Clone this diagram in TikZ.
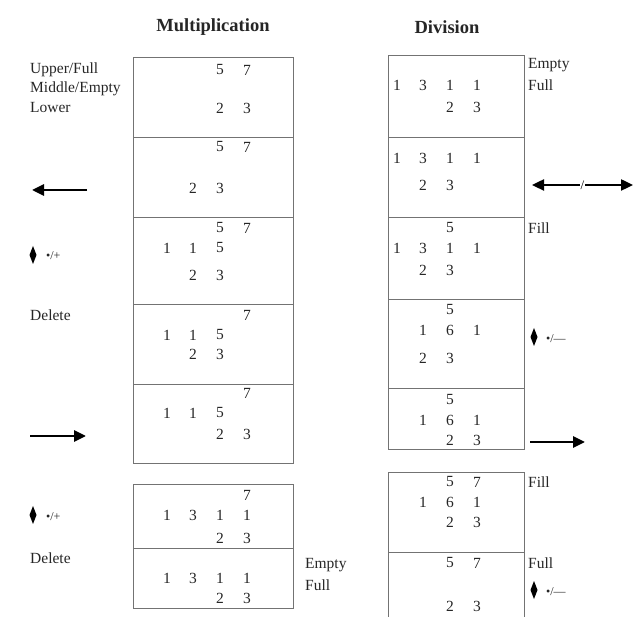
\documentclass[tikz,border=0pt]{standalone}
\usepackage{fontspec}
\setmainfont{Liberation Serif}
\usetikzlibrary{arrows.meta}
\newcounter{dgc}
\newcommand\Dg[3]{\stepcounter{dgc}\node[dig] (dg\arabic{dgc}) at (#1,#2) {#3};}
\begin{document}
\begin{tikzpicture}[x=1pt,y=-1pt,
  boxline/.style={draw=black!55,line width=0.8pt},
  dig/.style={inner sep=0pt,font=\fontsize{15.5}{18}\selectfont,text=black!85},
  lbl/.style={inner sep=0pt,anchor=west,font=\fontsize{15.5}{18}\selectfont,text=black!85},
  ttl/.style={inner sep=0pt,font=\fontsize{18.5}{22}\selectfont\bfseries,text=black!85},
  sml/.style={inner sep=0pt,anchor=west,font=\fontsize{12}{14}\selectfont,text=black!85},
  bigarrow/.style={line width=2.8pt,-{Triangle[length=12pt,width=11pt]}},
  dia/.style={fill=black}]
\useasboundingbox (0,0) rectangle (635,617);
% titles
\node[ttl] (tm) at (213,27) {Multiplication};
\node[ttl] (td) at (447,27) {Division};
% multiplication boxes
\draw[boxline] (133,57) rectangle (293,463);
\foreach \y in {137,217,304,384} \draw[boxline] (133,\y) -- (293,\y);
\draw[boxline] (133,484) rectangle (293,608);
\draw[boxline] (133,548) -- (293,548);
% division boxes
\draw[boxline] (388,55) rectangle (524,449);
\foreach \y in {137,217,299,388} \draw[boxline] (388,\y) -- (524,\y);
\draw[boxline] (388,617) -- (388,472) -- (524,472) -- (524,617);
\draw[boxline] (388,552) -- (524,552);
% columns
\def\A{167}\def\B{193}\def\C{220}\def\D{247}
\def\P{397}\def\Q{423}\def\R{450}\def\S{477}
% mult digits
\Dg{\C}{70}{5}\Dg{\D}{70}{7}\Dg{\C}{108}{2}\Dg{\D}{108}{3}
\Dg{\C}{147}{5}\Dg{\D}{147}{7}\Dg{\B}{188}{2}\Dg{\C}{188}{3}
\Dg{\C}{228}{5}\Dg{\D}{228}{7}\Dg{\A}{248}{1}\Dg{\B}{248}{1}\Dg{\C}{248}{5}\Dg{\B}{275}{2}\Dg{\C}{275}{3}
\Dg{\D}{315}{7}\Dg{\A}{335}{1}\Dg{\B}{335}{1}\Dg{\C}{335}{5}\Dg{\B}{354}{2}\Dg{\C}{354}{3}
\Dg{\D}{393}{7}\Dg{\A}{413}{1}\Dg{\B}{413}{1}\Dg{\C}{413}{5}\Dg{\C}{434}{2}\Dg{\D}{434}{3}
\Dg{\D}{495}{7}\Dg{\A}{515}{1}\Dg{\B}{515}{3}\Dg{\C}{515}{1}\Dg{\D}{515}{1}\Dg{\C}{538}{2}\Dg{\D}{538}{3}
\Dg{\A}{578}{1}\Dg{\B}{578}{3}\Dg{\C}{578}{1}\Dg{\D}{578}{1}\Dg{\C}{598}{2}\Dg{\D}{598}{3}
% div digits
\Dg{\P}{85}{1}\Dg{\Q}{85}{3}\Dg{\R}{85}{1}\Dg{\S}{85}{1}\Dg{\R}{107}{2}\Dg{\S}{107}{3}
\Dg{\P}{158}{1}\Dg{\Q}{158}{3}\Dg{\R}{158}{1}\Dg{\S}{158}{1}\Dg{\Q}{185}{2}\Dg{\R}{185}{3}
\Dg{\R}{228}{5}\Dg{\P}{248}{1}\Dg{\Q}{248}{3}\Dg{\R}{248}{1}\Dg{\S}{248}{1}\Dg{\Q}{270}{2}\Dg{\R}{270}{3}
\Dg{\R}{310}{5}\Dg{\Q}{330}{1}\Dg{\R}{330}{6}\Dg{\S}{330}{1}\Dg{\Q}{358}{2}\Dg{\R}{358}{3}
\Dg{\R}{400}{5}\Dg{\Q}{420}{1}\Dg{\R}{420}{6}\Dg{\S}{420}{1}\Dg{\R}{440}{2}\Dg{\S}{440}{3}
\Dg{\R}{482}{5}\Dg{\S}{482}{7}\Dg{\Q}{502}{1}\Dg{\R}{502}{6}\Dg{\S}{502}{1}\Dg{\R}{522}{2}\Dg{\S}{522}{3}
\Dg{\R}{563}{5}\Dg{\S}{563}{7}\Dg{\R}{606}{2}\Dg{\S}{606}{3}
% left labels
\node[lbl] (l1) at (30,70) {Upper/Full};
\node[lbl] (l2) at (30,89) {Middle/Empty};
\node[lbl] (l3) at (30,108) {Lower};
\coordinate (la1) at (87,190); \coordinate (la2) at (32,190);
\draw[bigarrow] (la1) -- (la2);
\fill[dia] (33,246) -- (36.5,255) -- (33,264) -- (29.5,255) -- cycle;
\node[sml] (op1) at (46,256) {•/+};
\node[lbl] (l4) at (30,315) {Delete};
\coordinate (ra1) at (30,436); \coordinate (ra2) at (86,436);
\draw[bigarrow] (ra1) -- (ra2);
\fill[dia] (33,506) -- (36.5,515) -- (33,524) -- (29.5,515) -- cycle;
\node[sml] (op2) at (46,517) {•/+};
\node[lbl] (l5) at (30,558) {Delete};
\node[lbl] (l6) at (305,565) {Empty};
\node[lbl] (l7) at (305,585) {Full};
% right labels
\node[lbl] (r1) at (528,65) {Empty};
\node[lbl] (r2) at (528,85) {Full};
\coordinate (da1) at (532,185); \coordinate (da2) at (633,185);
\draw[line width=2.4pt,{Triangle[length=12pt,width=11pt]}-{Triangle[length=12pt,width=11pt]}] (da1) -- (da2)
  node[pos=0.5,fill=white,inner sep=1pt,font=\fontsize{13}{14}\selectfont] (sl) {/};
\node[lbl] (r3) at (528,228) {Fill};
\fill[dia] (534,328) -- (537.5,337) -- (534,346) -- (530.5,337) -- cycle;
\node[sml] (op3) at (546,339) {•/—};
\coordinate (rb1) at (530,442); \coordinate (rb2) at (585,442);
\draw[bigarrow] (rb1) -- (rb2);
\node[lbl] (r4) at (528,482) {Fill};
\node[lbl] (r5) at (528,563) {Full};
\fill[dia] (534,581) -- (537.5,590) -- (534,599) -- (530.5,590) -- cycle;
\node[sml] (op4) at (546,592) {•/—};
\end{tikzpicture}
\end{document}
